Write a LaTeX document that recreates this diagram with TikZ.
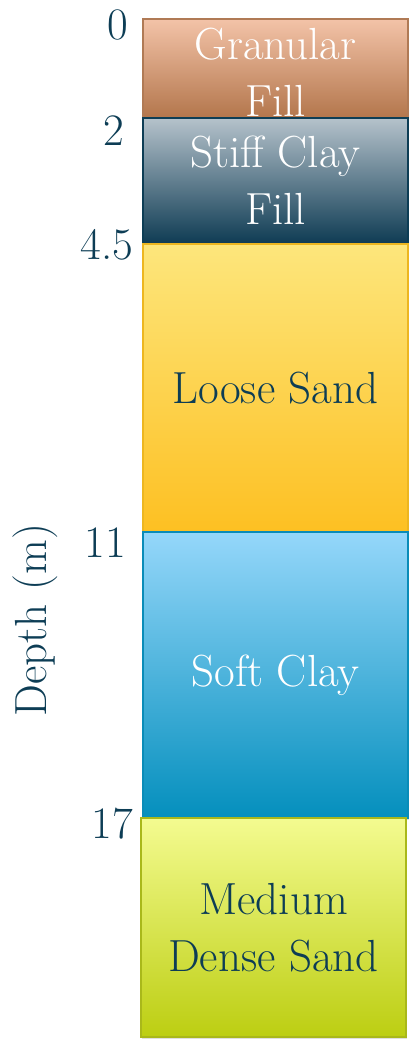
\documentclass[tikz,border=0pt]{standalone}
\usetikzlibrary{shadows}
\definecolor{ink}{HTML}{0D3D55}
\definecolor{gfTop}{HTML}{F3C3A8}
\definecolor{gfBot}{HTML}{B3764C}
\definecolor{gfLine}{HTML}{B07A55}
\definecolor{scTop}{HTML}{B5C2CB}
\definecolor{scBot}{HTML}{0E3B53}
\definecolor{scLine}{HTML}{0D3D55}
\definecolor{lsTop}{HTML}{FDE67C}
\definecolor{lsBot}{HTML}{FDC022}
\definecolor{lsLine}{HTML}{EDB620}
\definecolor{soTop}{HTML}{95D7FA}
\definecolor{soBot}{HTML}{048FBD}
\definecolor{soLine}{HTML}{0A8CB8}
\definecolor{mdTop}{HTML}{F4FB90}
\definecolor{mdBot}{HTML}{BCCE12}
\definecolor{mdLine}{HTML}{A9B81A}
\tikzset{
  layertext/.style={inner sep=0pt, align=center, font=\fontsize{45}{57}\selectfont},
  layer/.style={layertext, rectangle, line width=1.5pt, minimum width=265pt,
    drop shadow={shadow xshift=1pt, shadow yshift=-1.5pt, opacity=0.25}},
  depthlbl/.style={font=\fontsize{45}{50}\selectfont, text=ink, inner sep=0pt}
}
\begin{document}
\begin{tikzpicture}[x=1pt,y=-1pt]
\useasboundingbox (0,0) rectangle (411,1040);
\node[layer, draw=gfLine, top color=gfTop, bottom color=gfBot, minimum height=99pt] (gf) at (275.5,68.5) {};
\node[layer, draw=scLine, top color=scTop, bottom color=scBot, minimum height=126pt] (sc) at (275.5,181) {};
\node[layer, draw=lsLine, top color=lsTop, bottom color=lsBot, text=ink, minimum height=288pt] (ls) at (275.5,388) {Loose Sand};
\node[layer, draw=soLine, top color=soTop, bottom color=soBot, text=white, minimum height=286pt] (so) at (275.5,675) {Soft Clay};
\node[layer, draw=mdLine, top color=mdTop, bottom color=mdBot, text=ink, minimum height=219pt] (md) at (273.5,927.5) {Medium\\Dense Sand};
\node[layertext, text=white] (gft) at (275.5,72) {Granular\\Fill};
\node[layertext, text=white] (sct) at (275.5,180) {Stiff Clay\\Fill};
\node[depthlbl] (d0) at (118,25) {0};
\node[depthlbl] (d2) at (114,131) {2};
\node[depthlbl] (d45) at (107,245) {4.5};
\node[depthlbl] (d11) at (105,543) {11};
\node[depthlbl] (d17) at (112,824) {17};
\node[depthlbl, rotate=90] (axis) at (35,620) {Depth (m)};
\end{tikzpicture}
\end{document}
